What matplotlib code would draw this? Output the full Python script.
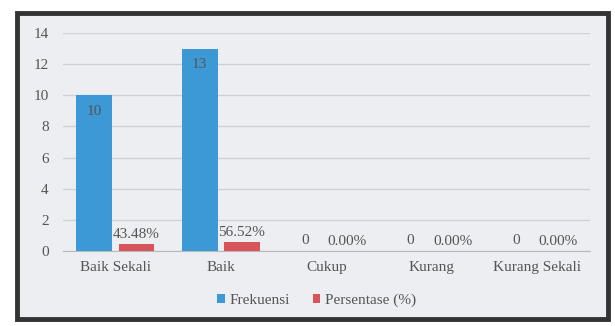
"""Bar chart: frekuensi dan persentase per kategori."""

import matplotlib.pyplot as plt
import numpy as np
from matplotlib.patches import Rectangle

categories = ["Baik Sekali", "Baik", "Cukup", "Kurang", "Kurang Sekali"]
frekuensi = [10, 13, 0, 0, 0]
persentase = [0.4348, 0.5652, 0.0, 0.0, 0.0]
persen_labels = ["43.48%", "56.52%", "0.00%", "0.00%", "0.00%"]
yticks = [0, 2, 4, 6, 8, 10, 12, 14]

BLUE = "#3d98d6"
RED = "#d6545a"
TEXT = "#555555"
BG = "#eceef1"

plt.rcParams["font.family"] = ["Liberation Serif", "DejaVu Serif"]

fig = plt.figure(figsize=(6.15, 3.26), dpi=100, facecolor="white")
# scanned frame around the chart
fig.patches.append(
    Rectangle((0.027, 0.022), 0.961, 0.937, transform=fig.transFigure,
              facecolor=BG, edgecolor="#333333", linewidth=3.5, zorder=-10)
)

ax = fig.add_axes([0.102, 0.230, 0.857, 0.669])
ax.set_facecolor("none")
x = np.arange(len(categories))
w = 0.34
b1 = ax.bar(x - 0.2, frekuensi, w, color=BLUE, label="Frekuensi", zorder=3)
b2 = ax.bar(x + 0.2, persentase, w, color=RED, label="Persentase (%)", zorder=3)

for rect, v in zip(b1, frekuensi):
    if v > 0:
        ax.annotate(str(v), (rect.get_x() + rect.get_width() / 2, v),
                    xytext=(0, -7), textcoords="offset points",
                    ha="center", va="top", fontsize=11, color=TEXT)
    else:
        ax.annotate(str(v), (rect.get_x() + rect.get_width() / 2, v),
                    xytext=(0, 3), textcoords="offset points",
                    ha="center", va="bottom", fontsize=11, color=TEXT)
for rect, v, lab in zip(b2, persentase, persen_labels):
    ax.annotate(lab, (rect.get_x() + rect.get_width() / 2, v),
                xytext=(0, 2), textcoords="offset points",
                ha="center", va="bottom", fontsize=11, color=TEXT)

ax.set_xlim(-0.5, len(categories) - 0.5)
ax.set_ylim(0, 14)
ax.set_yticks(yticks)
ax.set_xticks(x)
ax.set_xticklabels(categories)
ax.tick_params(length=0, labelsize=11, labelcolor=TEXT)
ax.tick_params(axis="y", pad=10)
ax.tick_params(axis="x", pad=7)
ax.grid(axis="y", color="#cfd0d3", linewidth=1, zorder=0)
for side in ["top", "right", "left"]:
    ax.spines[side].set_visible(False)
ax.spines["bottom"].set_color("#b8b9bc")

fig.legend(handles=[b1, b2], loc="center", bbox_to_anchor=(0.515, 0.078),
           ncol=2, frameon=False, fontsize=11, labelcolor=TEXT,
           handlelength=0.5, handleheight=0.5, handletextpad=0.3,
           columnspacing=1.5)

fig.savefig("out.png", dpi=100, facecolor=fig.get_facecolor())
